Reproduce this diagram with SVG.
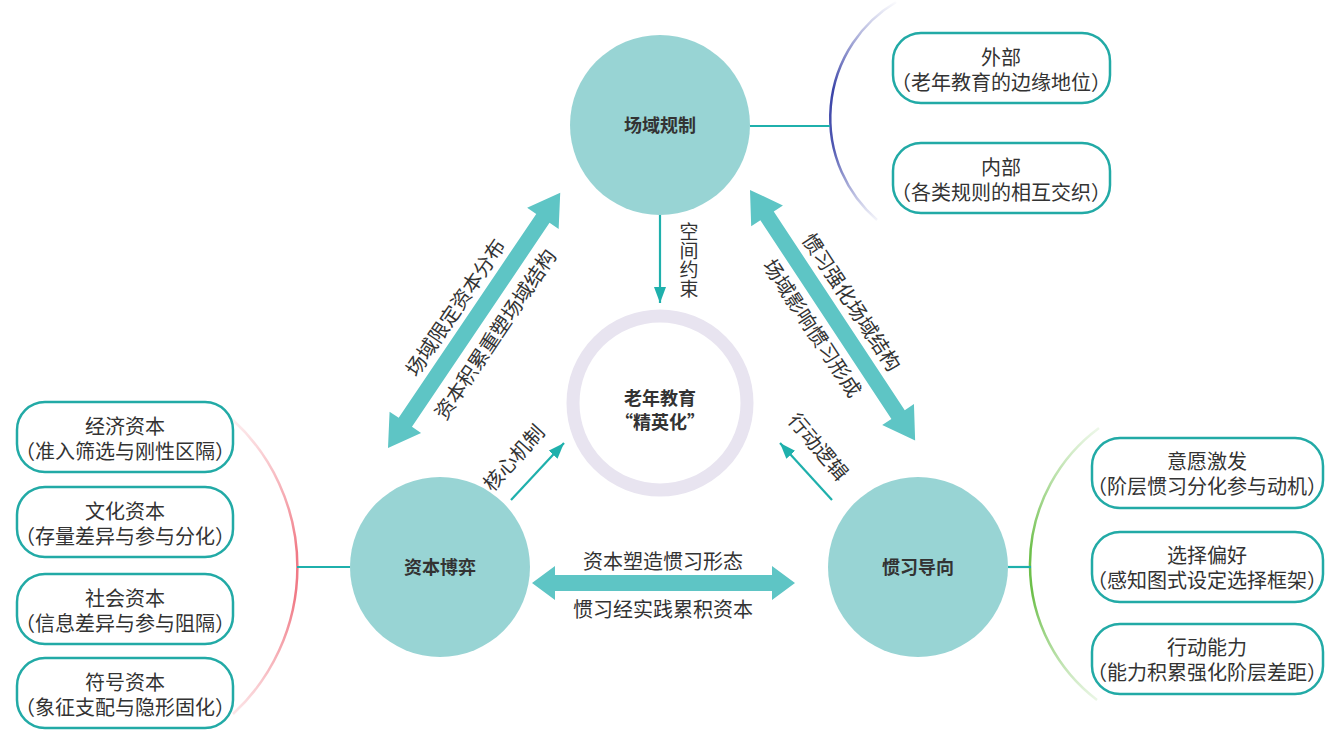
<svg xmlns="http://www.w3.org/2000/svg" width="1335" height="732" viewBox="0 0 1335 732">
<defs>
<style>
text{font-family:"Noto Sans CJK SC","Noto Sans",sans-serif;fill:#333;}
.node{fill:#98d4d4;}
.nlabel{font-size:18px;font-weight:bold;text-anchor:middle;}
.box{fill:#fff;stroke:#22aaa6;stroke-width:2.5;}
.btxt{font-size:20px;text-anchor:middle;}
.big{fill:#5ec5c5;}
.lbl{font-size:20px;text-anchor:middle;}
.thin{stroke:#1fb0ac;stroke-width:2.2;fill:none;}
</style>
<marker id="ah" viewBox="0 0 16 12" refX="16" refY="6" markerWidth="16" markerHeight="12" markerUnits="userSpaceOnUse" orient="auto">
<path d="M0,0 L16,6 L0,12 z" fill="#1fb0ac"/>
</marker>
<linearGradient id="gBlue" gradientUnits="userSpaceOnUse" x1="0" y1="0" x2="0" y2="225">
<stop offset="0" stop-color="#3b44a8" stop-opacity="0"/>
<stop offset="0.4" stop-color="#3b44a8" stop-opacity="1"/>
<stop offset="0.65" stop-color="#3b44a8" stop-opacity="0.9"/>
<stop offset="1" stop-color="#3b44a8" stop-opacity="0"/>
</linearGradient>
<linearGradient id="gRed" gradientUnits="userSpaceOnUse" x1="0" y1="415" x2="0" y2="720">
<stop offset="0" stop-color="#f07a86" stop-opacity="0.1"/>
<stop offset="0.45" stop-color="#f07a86" stop-opacity="1"/>
<stop offset="0.6" stop-color="#f07a86" stop-opacity="1"/>
<stop offset="1" stop-color="#f07a86" stop-opacity="0.15"/>
</linearGradient>
<linearGradient id="gGreen" gradientUnits="userSpaceOnUse" x1="0" y1="425" x2="0" y2="705">
<stop offset="0" stop-color="#6dbf4a" stop-opacity="0.1"/>
<stop offset="0.45" stop-color="#6dbf4a" stop-opacity="1"/>
<stop offset="0.6" stop-color="#6dbf4a" stop-opacity="1"/>
<stop offset="1" stop-color="#6dbf4a" stop-opacity="0.1"/>
</linearGradient>
</defs>
<rect width="1335" height="732" fill="#fff"/>

<g id="connectors">
<path d="M896,2 A135,135 0 0 0 877,220" stroke="url(#gBlue)" stroke-width="2.5" fill="none"/>
<path d="M233,420 A200,200 0 0 1 233,714" stroke="url(#gRed)" stroke-width="2.5" fill="none"/>
<path d="M1099,428 A170,170 0 0 0 1097,700" stroke="url(#gGreen)" stroke-width="2.5" fill="none"/>
<line class="thin" x1="750" y1="126" x2="830" y2="126"/>
<line class="thin" x1="297" y1="567" x2="350" y2="567"/>
<line class="thin" x1="1008" y1="567" x2="1031" y2="567"/>
<line class="thin" x1="660" y1="214" x2="660" y2="303" marker-end="url(#ah)"/>
<line class="thin" x1="511" y1="500" x2="564" y2="443" marker-end="url(#ah)"/>
<line class="thin" x1="832" y1="500" x2="780" y2="443" marker-end="url(#ah)"/>
<g transform="translate(388,448) rotate(-56)">
<path class="big" d="M0,0 L31,-19 L31,-8 L277,-8 L277,-19 L308,0 L277,19 L277,8 L31,8 L31,19 Z"/>
</g>
<g transform="translate(750,190) rotate(56.6)">
<path class="big" d="M0,0 L31,-19 L31,-8 L269,-8 L269,-19 L300,0 L269,19 L269,8 L31,8 L31,19 Z"/>
</g>
<path class="big" d="M532,583 L555,566 L555,575 L772,575 L772,566 L795,583 L772,600 L772,591 L555,591 L555,600 Z"/>
<g transform="translate(474,320) rotate(-56)">
<text class="lbl" x="0" y="-15">场域限定资本分布</text>
<text class="lbl" x="0" y="33">资本积累重塑场域结构</text>
</g>
<g transform="translate(832,315) rotate(56.6)">
<text class="lbl" x="0" y="-16">惯习强化场域结构</text>
<text class="lbl" x="0" y="31">场域影响惯习形成</text>
</g>
<text class="lbl" x="663" y="569">资本塑造惯习形态</text>
<text class="lbl" x="663" y="617">惯习经实践累积资本</text>
<text x="689" y="222" font-size="19" style="writing-mode:vertical-rl" writing-mode="tb">空间约束</text>
<text class="lbl" font-size="19" transform="translate(514,458) rotate(-48)" x="0" y="7">核心机制</text>
<text class="lbl" font-size="19" transform="translate(818,447) rotate(50)" x="0" y="7">行动逻辑</text>
</g>

<g id="node-center">
<circle cx="660" cy="403" r="87" fill="none" stroke="#e8e4f0" stroke-width="13"/>
<text class="nlabel" x="660" y="405">老年教育</text>
<text class="nlabel" x="660" y="429">“精英化”</text>
</g>
<g id="node-field">
<circle class="node" cx="660" cy="125" r="90"/>
<text class="nlabel" x="660" y="132">场域规制</text>
</g>
<g id="node-capital">
<circle class="node" cx="440" cy="567" r="90"/>
<text class="nlabel" x="440" y="574">资本博弈</text>
</g>
<g id="node-habitus">
<circle class="node" cx="918" cy="567" r="90"/>
<text class="nlabel" x="918" y="574">惯习导向</text>
</g>

<g id="box-outer">
<rect class="box" x="893" y="33" width="217" height="70" rx="28"/>
<text class="btxt" x="1001" y="65">外部</text>
<text class="btxt" x="1001" y="90">（老年教育的边缘地位）</text>
</g>
<g id="box-inner">
<rect class="box" x="893" y="143" width="217" height="70" rx="28"/>
<text class="btxt" x="1001" y="175">内部</text>
<text class="btxt" x="1001" y="200">（各类规则的相互交织）</text>
</g>

<g id="box-econ">
<rect class="box" x="17" y="402" width="216" height="70" rx="28"/>
<text class="btxt" x="125" y="434">经济资本</text>
<text class="btxt" x="125" y="459">（准入筛选与刚性区隔）</text>
</g>
<g id="box-cult">
<rect class="box" x="17" y="487" width="216" height="70" rx="28"/>
<text class="btxt" x="125" y="519">文化资本</text>
<text class="btxt" x="125" y="544">（存量差异与参与分化）</text>
</g>
<g id="box-soc">
<rect class="box" x="17" y="574" width="216" height="70" rx="28"/>
<text class="btxt" x="125" y="606">社会资本</text>
<text class="btxt" x="125" y="631">（信息差异与参与阻隔）</text>
</g>
<g id="box-sym">
<rect class="box" x="17" y="658" width="216" height="70" rx="28"/>
<text class="btxt" x="125" y="690">符号资本</text>
<text class="btxt" x="125" y="715">（象征支配与隐形固化）</text>
</g>

<g id="box-will">
<rect class="box" x="1092" y="438" width="231" height="70" rx="28"/>
<text class="btxt" x="1207" y="469">意愿激发</text>
<text class="btxt" x="1207" y="494">（阶层惯习分化参与动机）</text>
</g>
<g id="box-pref">
<rect class="box" x="1092" y="532" width="231" height="70" rx="28"/>
<text class="btxt" x="1207" y="563">选择偏好</text>
<text class="btxt" x="1207" y="588">（感知图式设定选择框架）</text>
</g>
<g id="box-act">
<rect class="box" x="1092" y="624" width="231" height="70" rx="28"/>
<text class="btxt" x="1207" y="655">行动能力</text>
<text class="btxt" x="1207" y="680">（能力积累强化阶层差距）</text>
</g>
</svg>
